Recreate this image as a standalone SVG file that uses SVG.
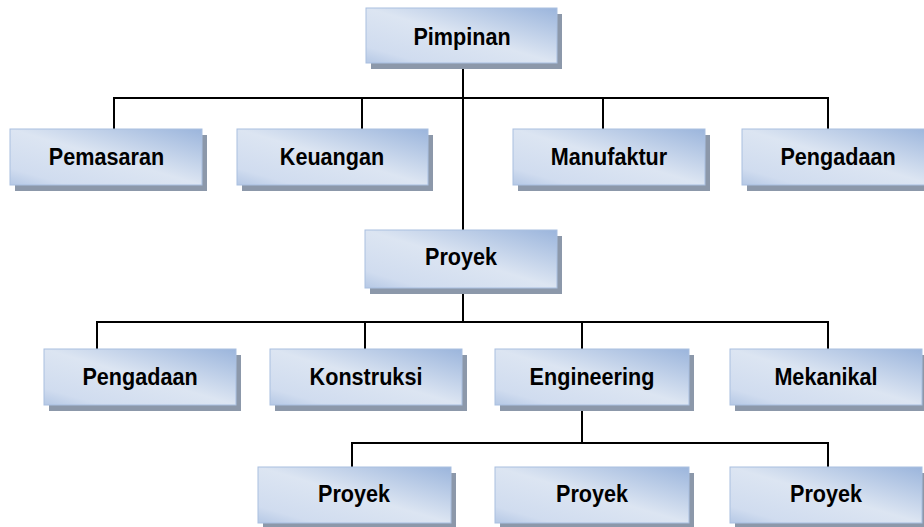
<svg xmlns="http://www.w3.org/2000/svg" width="924" height="527" viewBox="0 0 924 527">
<defs>
<linearGradient id="g" x1="1" y1="0" x2="0" y2="1">
<stop offset="0" stop-color="#9bb5dc"/>
<stop offset="0.5" stop-color="#dce5f2"/>
<stop offset="0.85" stop-color="#d0dcef"/>
<stop offset="1" stop-color="#b5c8e5"/>
</linearGradient>
<style>
.sh{fill:#8c98aa}
.bx{fill:url(#g);stroke:#a9bfe0;stroke-width:1}
.t{font-family:"Liberation Sans",Arial,sans-serif;font-weight:bold;font-size:24px;fill:#000;text-anchor:middle}
.c{fill:none;stroke:#000;stroke-width:2}
</style>
</defs>
<rect width="924" height="527" fill="#fff"/>
<g id="connectors">
<path class="c" d="M463 63V230"/>
<path class="c" d="M114 129V98H828V129M362 98V129M603 98V129"/>
<path class="c" d="M463 288V322M97 349V322H828V349M365 322V349M582 322V349"/>
<path class="c" d="M582 405V443M352 467V443H828V467"/>
</g>
<g id="pimpinan"><rect class="sh" x="371" y="14" width="191" height="55"/><rect class="bx" x="366" y="8" width="191" height="55"/><text class="t" transform="translate(462 45) scale(0.9 1)">Pimpinan</text></g>
<g id="pemasaran"><rect class="sh" x="15" y="135" width="192" height="56"/><rect class="bx" x="10" y="129" width="192" height="56"/><text class="t" transform="translate(106.5 165) scale(0.9 1)">Pemasaran</text></g>
<g id="keuangan"><rect class="sh" x="242" y="135" width="191" height="56"/><rect class="bx" x="237" y="129" width="191" height="56"/><text class="t" transform="translate(332 165) scale(0.9 1)">Keuangan</text></g>
<g id="manufaktur"><rect class="sh" x="518" y="135" width="192" height="56"/><rect class="bx" x="513" y="129" width="192" height="56"/><text class="t" transform="translate(609 165) scale(0.9 1)">Manufaktur</text></g>
<g id="pengadaan1"><rect class="sh" x="747" y="135" width="192" height="56"/><rect class="bx" x="742" y="129" width="192" height="56"/><text class="t" transform="translate(838 165) scale(0.9 1)">Pengadaan</text></g>
<g id="proyek"><rect class="sh" x="370" y="236" width="192" height="58"/><rect class="bx" x="365" y="230" width="192" height="58"/><text class="t" transform="translate(461 265) scale(0.9 1)">Proyek</text></g>
<g id="pengadaan2"><rect class="sh" x="49" y="355" width="192" height="56"/><rect class="bx" x="44" y="349" width="192" height="56"/><text class="t" transform="translate(140 385) scale(0.9 1)">Pengadaan</text></g>
<g id="konstruksi"><rect class="sh" x="275" y="355" width="192" height="56"/><rect class="bx" x="270" y="349" width="192" height="56"/><text class="t" transform="translate(366 385) scale(0.9 1)">Konstruksi</text></g>
<g id="engineering"><rect class="sh" x="500" y="355" width="194" height="56"/><rect class="bx" x="495" y="349" width="194" height="56"/><text class="t" transform="translate(592 385) scale(0.9 1)">Engineering</text></g>
<g id="mekanikal"><rect class="sh" x="735" y="355" width="192" height="56"/><rect class="bx" x="730" y="349" width="192" height="56"/><text class="t" transform="translate(826 385) scale(0.9 1)">Mekanikal</text></g>
<g id="proyek1"><rect class="sh" x="263" y="473" width="193" height="56"/><rect class="bx" x="258" y="467" width="193" height="56"/><text class="t" transform="translate(354 502) scale(0.9 1)">Proyek</text></g>
<g id="proyek2"><rect class="sh" x="500" y="473" width="194" height="56"/><rect class="bx" x="495" y="467" width="194" height="56"/><text class="t" transform="translate(592 502) scale(0.9 1)">Proyek</text></g>
<g id="proyek3"><rect class="sh" x="735" y="473" width="192" height="56"/><rect class="bx" x="730" y="467" width="192" height="56"/><text class="t" transform="translate(826 502) scale(0.9 1)">Proyek</text></g>
</svg>
